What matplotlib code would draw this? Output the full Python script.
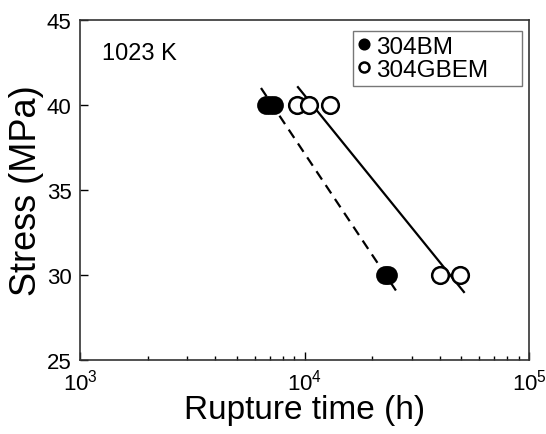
import matplotlib
matplotlib.use('Agg')
import matplotlib.pyplot as plt
import matplotlib.ticker as ticker

plt.rcParams['font.family'] = ['Liberation Sans', 'DejaVu Sans']
plt.rcParams['mathtext.fontset'] = 'custom'
plt.rcParams['mathtext.rm'] = 'Liberation Sans'

# creep rupture data at 1023 K
bm_time = [6750, 7000, 7350, 22800, 23600]
bm_stress = [40, 40, 40, 30, 30]
gbem_time = [9250, 10450, 13000, 40100, 49500]
gbem_stress = [40, 40, 40, 30, 30]

# fitted lines (end points)
bm_fit_time = [6400, 25800]
bm_fit_stress = [41.0, 29.0]
gbem_fit_time = [9350, 51300]
gbem_fit_stress = [41.05, 29.0]

fig = plt.figure(figsize=(5.46, 4.35), dpi=100)
ax = fig.add_axes([80/546, 1-361/435, 449/546, 340/435])

ax.plot(bm_fit_time, bm_fit_stress, 'k--', lw=1.6, dashes=(4.5, 3))
ax.plot(gbem_fit_time, gbem_fit_stress, 'k-', lw=1.6)
ax.plot(bm_time, bm_stress, 'o', ms=12, mfc='black', mec='black', mew=1.5,
        ls='none', label='304BM')
ax.plot(gbem_time, gbem_stress, 'o', ms=12, mfc='white', mec='black', mew=1.8,
        ls='none', label='304GBEM')

ax.set_xscale('log')
ax.set_xlim(1e3, 1e5)
ax.set_ylim(25, 45)
ax.yaxis.set_major_locator(ticker.MultipleLocator(5))
ax.xaxis.set_major_formatter(ticker.LogFormatterMathtext())

for s in ax.spines.values():
    s.set_linewidth(1.2)
    s.set_color('#333333')

ax.tick_params(which='both', direction='in', top=False, right=False,
               labelsize=16, pad=6)
ax.tick_params(which='major', length=6, width=1.0)
ax.tick_params(which='minor', length=3, width=1.0)

ax.set_xlabel('Rupture time (h)', fontsize=24, labelpad=0)
ax.set_ylabel('Stress (MPa)', fontsize=26, labelpad=2)

ax.text(0.05, 0.935, '1023 K', transform=ax.transAxes, fontsize=17,
        va='top', ha='left')

leg = ax.legend(loc='upper left', bbox_to_anchor=(0.608, 0.803, 0.376, 0.165),
                mode='expand', borderaxespad=0, fontsize=17.5, frameon=True,
                fancybox=False, handlelength=0.5, handletextpad=0.25,
                borderpad=0.2, labelspacing=0.05, markerscale=0.6)
leg.get_frame().set_edgecolor('#555555')
leg.get_frame().set_linewidth(1.0)

fig.savefig('out.png', dpi=100)
